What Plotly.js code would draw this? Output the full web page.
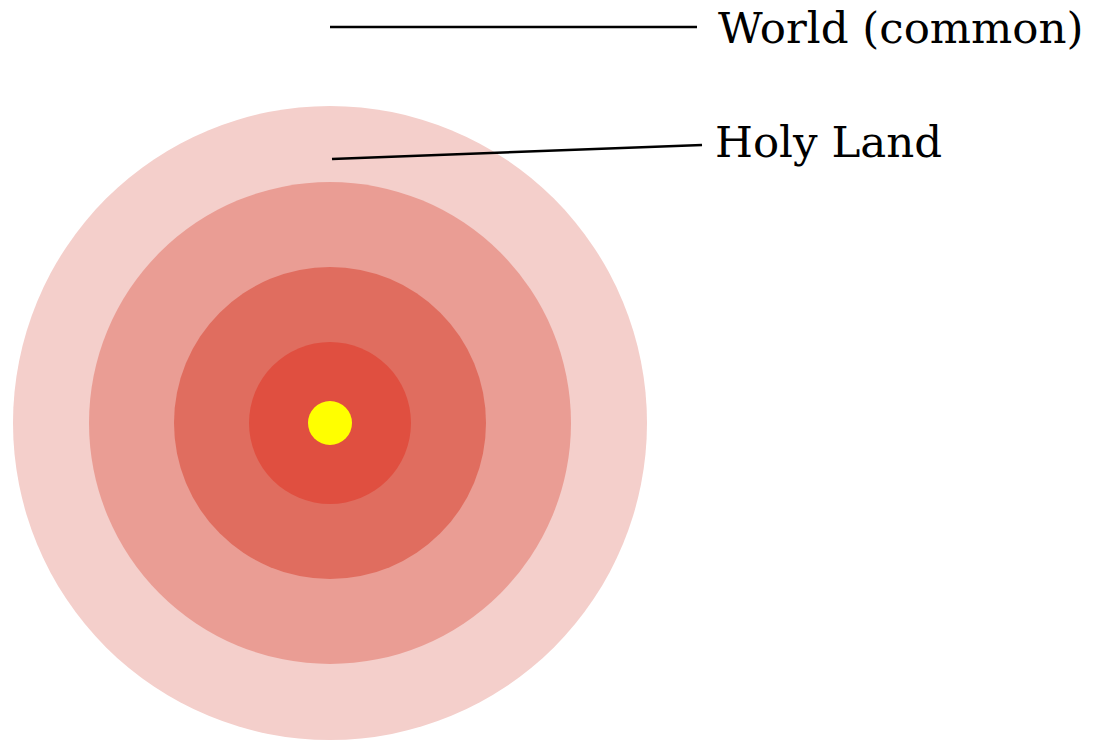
<!DOCTYPE html>
<html>
<head>
<meta charset="utf-8">
<script src="https://cdn.plot.ly/plotly-3.0.1.min.js"></script>
<style>html,body{margin:0;padding:0;background:#fff}#chart{width:1099px;height:741px}</style>
</head>
<body>
<div id="chart"></div>
<script>
// Concentric levels (outer to inner), radii in chart units
const levels = ["Outer", "Second", "Third", "Fourth", "Core"];
const radii = [317, 241, 156, 81, 22];
const colors = ["#F4CFCB", "#EA9D94", "#E06D5F", "#E04F40", "#FFFF00"];
const centerX = 330;
const centerY = 423;

// Label callouts
const labelTexts = ["World (common)", "Holy Land"];
const lineStartX = [330, 332];
const lineStartY = [27, 159];
const lineEndX = [697, 702];
const lineEndY = [27, 145];
const textX = [716, 713];
const textY = [28, 142];

const shapes = [];
radii.forEach((r, i) => {
  shapes.push({
    type: "circle", xref: "x", yref: "y",
    x0: centerX - r, x1: centerX + r, y0: centerY - r, y1: centerY + r,
    fillcolor: colors[i], line: {width: 0}, layer: "below"
  });
});
labelTexts.forEach((t, i) => {
  shapes.push({
    type: "line", xref: "x", yref: "y",
    x0: lineStartX[i], y0: lineStartY[i], x1: lineEndX[i], y1: lineEndY[i],
    line: {color: "#000", width: 2.5}
  });
});
const annotations = labelTexts.map((t, i) => ({
  x: textX[i], y: textY[i], xref: "x", yref: "y",
  text: t, showarrow: false, xanchor: "left", yanchor: "middle",
  font: {family: "DejaVu Serif", size: 43.5, color: "#000"}
}));

Plotly.newPlot("chart", [{x: [], y: [], type: "scatter", mode: "markers", hoverinfo: "skip"}], {
  width: 1099, height: 741,
  margin: {l: 0, r: 0, t: 0, b: 0},
  paper_bgcolor: "#fff", plot_bgcolor: "#fff",
  showlegend: false,
  xaxis: {range: [0, 1099], visible: false, fixedrange: true},
  yaxis: {range: [741, 0], visible: false, fixedrange: true},
  shapes: shapes,
  annotations: annotations
}, {displayModeBar: false, staticPlot: true});
</script>
</body>
</html>
